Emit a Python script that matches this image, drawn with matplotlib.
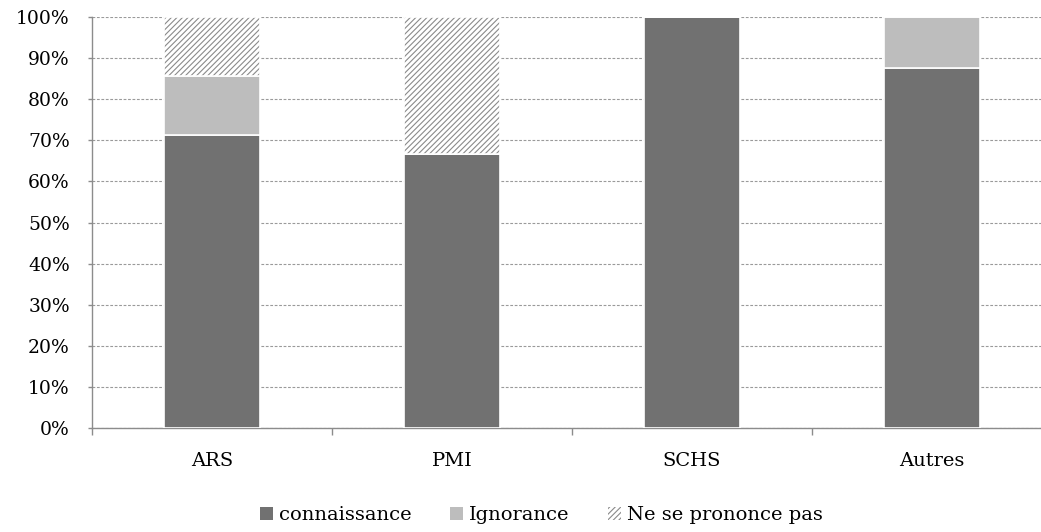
import matplotlib
matplotlib.use("Agg")
import matplotlib.pyplot as plt
import numpy as np
from matplotlib.ticker import FuncFormatter, FixedLocator
from matplotlib.patches import Patch

categories = ["ARS", "PMI", "SCHS", "Autres"]
connaissance = [71.4, 66.7, 100.0, 87.5]
ignorance = [14.3, 0.0, 0.0, 12.5]
ne_se_prononce_pas = [14.3, 33.3, 0.0, 0.0]

dark = "#717171"
light = "#bdbdbd"
hatch_col = "#8a8a8a"
plt.rcParams["font.family"] = ["DejaVu Serif"]
plt.rcParams["hatch.linewidth"] = 0.8

fig = plt.figure(figsize=(10.41, 5.32), dpi=100)
# the last category runs past the right edge of the figure
ax = fig.add_axes([0.0884, 0.1955, 0.9222, 0.7725])

x = np.arange(len(categories))
w = 0.4
c = np.array(connaissance)
i = np.array(ignorance)
n = np.array(ne_se_prononce_pas)
ax.bar(x, c, w, color=dark, edgecolor="white", linewidth=1.2, zorder=3)
ax.bar(x, i, w, bottom=c, color=light, edgecolor="white", linewidth=1.2, zorder=3)
# hatched segment: hatch takes the edge colour, so the white outline is drawn on top
ax.bar(x, n, w, bottom=c + i, color="white", edgecolor=hatch_col, hatch="//////",
       linewidth=0, zorder=3)
ax.bar(x, n, w, bottom=c + i, fill=False, edgecolor="white", linewidth=1.2, zorder=4)

ax.set_xlim(-0.5, len(categories) - 0.5)
ax.set_ylim(0, 100)
ax.set_yticks(np.arange(0, 101, 10))
ax.yaxis.set_major_formatter(FuncFormatter(lambda v, p: f"{v:.0f}%"))
ax.yaxis.grid(True, linestyle=(0, (2.5, 1.5)), color="#9a9a9a", linewidth=0.8, zorder=0)

ax.set_xticks(x)
ax.set_xticklabels(categories)
ax.xaxis.set_minor_locator(FixedLocator(np.arange(-0.5, len(categories), 1.0)))
ax.tick_params(axis="x", which="major", length=0, pad=17, labelsize=14)
ax.tick_params(axis="x", which="minor", length=5, color="#8c8c8c", width=1)
ax.tick_params(axis="y", length=3, color="#8c8c8c", width=1, labelsize=13.5,
               direction="out", pad=13)

for s in ["top", "right"]:
    ax.spines[s].set_visible(False)
for s in ["left", "bottom"]:
    ax.spines[s].set_color("#8c8c8c")
    ax.spines[s].set_linewidth(1)

handles = [
    Patch(facecolor=dark, edgecolor="none", label="connaissance"),
    Patch(facecolor=light, edgecolor="none", label="Ignorance"),
    Patch(facecolor="white", edgecolor=hatch_col, hatch="//////", linewidth=0,
          label="Ne se prononce pas"),
]
fig.legend(handles=handles, loc="center", bbox_to_anchor=(0.52, 0.032), ncol=3,
           frameon=False, fontsize=14, handlelength=0.65, handleheight=0.65,
           handletextpad=0.3, columnspacing=2.0)

fig.savefig("out.png", dpi=100)
